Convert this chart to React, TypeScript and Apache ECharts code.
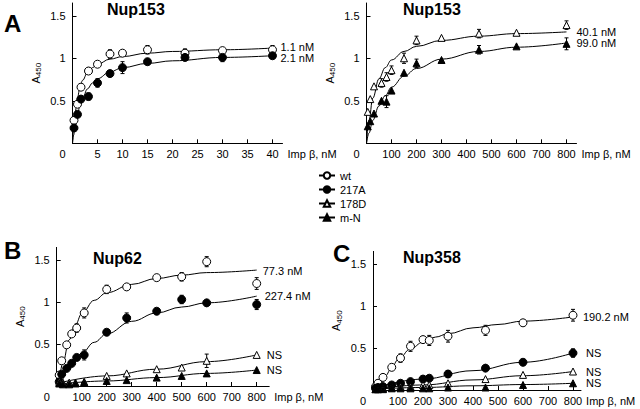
import React, { useEffect, useRef } from 'react';
import * as echarts from 'echarts';

// ---------- Panel A (left): Nup153, 0–40 nM ----------
const A1_X = [0.3, 1.0, 1.7, 3.2, 5, 7.5, 10, 15, 22.5, 30, 40];
const A1_WT = [0.27, 0.46, 0.66, 0.85, 0.93, 1.05, 1.06, 1.1, 1.06, 1.09, 1.1];
const A1_WT_ERR = [0, 0, 0, 0.04, 0, 0.05, 0, 0.05, 0.05, 0, 0.05];
const A1_217A = [0.18, 0.34, 0.52, 0.55, 0.71, 0.82, 0.89, 0.96, 1.01, 1.01, 1.03];
const A1_217A_ERR = [0, 0, 0.03, 0.04, 0.05, 0, 0.07, 0, 0.02, 0.05, 0];
const A1_FIT_X = [0, 0.25, 0.5, 1, 1.5, 2, 3, 4, 5, 7.5, 10, 15, 20, 30, 40];
const A1_WT_FIT = [0, 0.21, 0.35, 0.54, 0.66, 0.74, 0.83, 0.89, 0.93, 0.99, 1.02, 1.06, 1.08, 1.1, 1.12];
const A1_217A_FIT = [0, 0.1, 0.19, 0.34, 0.45, 0.53, 0.64, 0.71, 0.76, 0.84, 0.89, 0.94, 0.97, 1.01, 1.03];
const A1_TICKS = [0, 5, 10, 15, 20, 25, 30, 35, 40];

// ---------- Panel A (right): Nup153, 0–800 nM ----------
const A2_X = [5, 15, 30, 60, 80, 100, 150, 200, 300, 450, 600, 800];
const A2_178D = [0.37, 0.52, 0.67, 0.71, 0.78, 0.86, 1.0, 1.21, 1.24, 1.29, 1.3, 1.39];
const A2_178D_ERR = [0, 0, 0, 0.05, 0.05, 0.05, 0.06, 0.05, 0, 0.05, 0, 0.05];
const A2_MN = [0.2, 0.26, 0.35, 0.5, 0.49, 0.62, 0.83, 0.94, 0.98, 1.1, 1.14, 1.17];
const A2_MN_ERR = [0, 0, 0, 0, 0.07, 0, 0, 0.05, 0, 0.05, 0, 0.07];
const A2_FIT_X = [0, 10, 25, 50, 75, 100, 150, 200, 300, 450, 600, 800];
const A2_178D_FIT = [0, 0.27, 0.53, 0.76, 0.89, 0.98, 1.08, 1.14, 1.21, 1.26, 1.29, 1.31];
const A2_MN_FIT = [0, 0.12, 0.27, 0.44, 0.56, 0.66, 0.79, 0.88, 0.99, 1.08, 1.13, 1.18];

// ---------- Panel B: Nup62 ----------
const B_X = [10, 20, 40, 60, 80, 110, 200, 280, 400, 500, 600, 800];
const B_WT = [0.13, 0.3, 0.49, 0.62, 0.69, 0.87, 1.15, 1.18, 1.29, 1.3, 1.48, 1.22];
const B_WT_ERR = [0, 0, 0, 0, 0.05, 0.06, 0.05, 0.02, 0, 0.05, 0.06, 0.07];
const B_217A = [0.05, 0.14, 0.21, 0.27, 0.34, 0.37, 0.64, 0.81, 0.89, 1.03, 0.99, 0.97];
const B_217A_ERR = [0, 0, 0, 0, 0, 0.06, 0, 0.06, 0, 0.05, 0, 0.06];
const B_X2 = [10, 25, 50, 75, 110, 200, 280, 400, 500, 600, 800];
const B_178D = [0.05, 0.04, 0.04, 0.04, 0.05, 0.12, 0.15, 0.2, 0.22, 0.3, 0.37];
const B_178D_ERR = [0, 0, 0, 0, 0, 0, 0, 0, 0, 0.08, 0];
const B_MN = [0.03, 0.02, 0.02, 0.03, 0.04, 0.06, 0.07, 0.1, 0.12, 0.15, 0.19];
const B_WT_FIT_X = [10, 25, 50, 75, 100, 150, 200, 300, 400, 500, 600, 800];
const B_WT_FIT = [0.05, 0.28, 0.55, 0.73, 0.86, 1.02, 1.11, 1.21, 1.28, 1.32, 1.35, 1.38];
const B_217A_FIT_X = [20, 50, 100, 150, 200, 300, 400, 500, 600, 800];
const B_217A_FIT = [0.05, 0.2, 0.39, 0.52, 0.62, 0.77, 0.87, 0.94, 0.99, 1.07];
const B_LIN_X = [0, 200, 400, 600, 800];
const B_178D_FIT = [0.03, 0.12, 0.2, 0.29, 0.37];
const B_MN_FIT = [0.02, 0.06, 0.1, 0.15, 0.19];

// ---------- Panel C: Nup358 ----------
const C_X = [10, 20, 40, 75, 110, 150, 200, 225, 300, 450, 600, 800];
const C_WT = [0.04, 0.08, 0.15, 0.27, 0.38, 0.52, 0.6, 0.59, 0.64, 0.71, 0.8, 0.89];
const C_WT_ERR = [0, 0, 0, 0, 0.05, 0.06, 0, 0.06, 0.07, 0.06, 0, 0.07];
const C_217A = [0.02, 0.03, 0.04, 0.06, 0.08, 0.1, 0.13, 0.14, 0.19, 0.26, 0.33, 0.44];
const C_217A_ERR = [0, 0, 0, 0, 0, 0, 0, 0, 0.04, 0, 0, 0.05];
const C_178D = [0.01, 0.01, 0.02, 0.03, 0.04, 0.04, 0.06, 0.06, 0.08, 0.13, 0.18, 0.22];
const C_MN = [0.01, 0.01, 0.01, 0.02, 0.02, 0.02, 0.02, 0.02, 0.03, 0.03, 0.06, 0.08];
const C_WT_FIT_X = [0, 25, 50, 75, 100, 150, 200, 250, 300, 400, 500, 600, 800];
const C_WT_FIT = [0, 0.07, 0.17, 0.27, 0.36, 0.49, 0.57, 0.63, 0.67, 0.74, 0.78, 0.82, 0.87];
const C_LIN_X = [0, 200, 400, 600, 800];
const C_217A_FIT = [0.02, 0.13, 0.23, 0.33, 0.44];
const C_178D_FIT = [0.01, 0.06, 0.12, 0.17, 0.22];
const C_MN_FIT = [0.01, 0.03, 0.05, 0.065, 0.08];

const IMP_TICKS = [0, 100, 200, 300, 400, 500, 600, 700, 800];
const Y_TICKS = [0.5, 1, 1.5];
const LEGEND_NAMES = ['wt', '217A', '178D', 'm-N'];

const FONT = '"Liberation Sans", Arial, Helvetica, sans-serif';

const STYLE: Record<string, { symbol: string; size: number; fill: string }> = {
  wt: { symbol: 'circle', size: 8, fill: '#ffffff' },
  '217A': { symbol: 'circle', size: 8, fill: '#000000' },
  '178D': { symbol: 'triangle', size: 7, fill: '#ffffff' },
  'm-N': { symbol: 'triangle', size: 7, fill: '#000000' },
};

type DS = {
  kind: string;
  x: number[];
  y: number[];
  err?: number[];
  fitX: number[];
  fit: number[];
  label: string;
  dist: number;
  dy: number;
};

type Panel = {
  grid: { left: number; top: number; width: number; height: number };
  xMax: number;
  ticks: number[];
  sets: DS[];
};

const PANELS: Panel[] = [
  {
    grid: { left: 72.5, top: 3, width: 210, height: 140.3 },
    xMax: 42,
    ticks: A1_TICKS,
    sets: [
      { kind: 'wt', x: A1_X, y: A1_WT, err: A1_WT_ERR, fitX: A1_FIT_X, fit: A1_WT_FIT, label: '1.1 nM', dist: 8, dy: -1 },
      { kind: '217A', x: A1_X, y: A1_217A, err: A1_217A_ERR, fitX: A1_FIT_X, fit: A1_217A_FIT, label: '2.1 nM', dist: 8, dy: 2.5 },
    ],
  },
  {
    grid: { left: 366.5, top: 3, width: 210, height: 140.3 },
    xMax: 840,
    ticks: IMP_TICKS,
    sets: [
      { kind: '178D', x: A2_X, y: A2_178D, err: A2_178D_ERR, fitX: A2_FIT_X, fit: A2_178D_FIT, label: '40.1 nM', dist: 10, dy: 0 },
      { kind: 'm-N', x: A2_X, y: A2_MN, err: A2_MN_ERR, fitX: A2_FIT_X, fit: A2_MN_FIT, label: '99.0 nM', dist: 10, dy: 0 },
    ],
  },
  {
    grid: { left: 56.7, top: 247.4, width: 212.5, height: 138.6 },
    xMax: 850,
    ticks: IMP_TICKS,
    sets: [
      { kind: 'wt', x: B_X, y: B_WT, err: B_WT_ERR, fitX: B_WT_FIT_X, fit: B_WT_FIT, label: '77.3 nM', dist: 6, dy: 1 },
      { kind: '217A', x: B_X, y: B_217A, err: B_217A_ERR, fitX: B_217A_FIT_X, fit: B_217A_FIT, label: '227.4 nM', dist: 8, dy: 0 },
      { kind: '178D', x: B_X2, y: B_178D, err: B_178D_ERR, fitX: B_LIN_X, fit: B_178D_FIT, label: 'NS', dist: 10, dy: 0 },
      { kind: 'm-N', x: B_X2, y: B_MN, fitX: B_LIN_X, fit: B_MN_FIT, label: 'NS', dist: 10, dy: 0 },
    ],
  },
  {
    grid: { left: 373, top: 251.4, width: 208, height: 138.6 },
    xMax: 832,
    ticks: IMP_TICKS,
    sets: [
      { kind: 'wt', x: C_X, y: C_WT, err: C_WT_ERR, fitX: C_WT_FIT_X, fit: C_WT_FIT, label: '190.2 nM', dist: 10, dy: 0 },
      { kind: '217A', x: C_X, y: C_217A, err: C_217A_ERR, fitX: C_LIN_X, fit: C_217A_FIT, label: 'NS', dist: 13, dy: 0 },
      { kind: '178D', x: C_X, y: C_178D, fitX: C_LIN_X, fit: C_178D_FIT, label: 'NS', dist: 13, dy: 0 },
      { kind: 'm-N', x: C_X, y: C_MN, fitX: C_LIN_X, fit: C_MN_FIT, label: 'NS', dist: 13, dy: 0 },
    ],
  },
];

const TITLES = [
  { text: 'Nup153', left: 107, top: 1 },
  { text: 'Nup153', left: 403, top: 1 },
  { text: 'Nup62', left: 93, top: 250 },
  { text: 'Nup358', left: 403, top: 249 },
];
const LETTERS = [
  { text: 'A', left: 4, top: 11 },
  { text: 'B', left: 4, top: 238 },
  { text: 'C', left: 333, top: 241 },
];

function buildOption() {
  const grids: any[] = [];
  const xAxes: any[] = [];
  const yAxes: any[] = [];
  const series: any[] = [];

  PANELS.forEach((p, i) => {
    grids.push({ ...p.grid, containLabel: false });
    xAxes.push({
      type: 'value',
      gridIndex: i,
      min: 0,
      max: p.xMax,
      name: 'Imp β, nM',
      nameLocation: 'end',
      nameGap: 5,
      nameTextStyle: { fontFamily: FONT, fontSize: 11, color: '#000', verticalAlign: 'top', align: 'left', padding: [5, 0, 0, 0] },
      axisLine: { onZero: false, lineStyle: { color: '#000', width: 1 } },
      axisTick: { show: true, inside: true, length: 4, lineStyle: { color: '#000' }, customValues: p.ticks.filter((t) => t > 0) },
      axisLabel: {
        show: true,
        margin: 5,
        fontFamily: FONT,
        fontSize: 11,
        color: '#000',
        customValues: p.ticks,
        formatter: (v: number) => (v === 0 ? '{z|0}' : String(v)),
        rich: { z: { fontFamily: FONT, fontSize: 11, color: '#000', padding: [0, 20, 0, 0] } },
      },
      splitLine: { show: false },
    });
    yAxes.push({
      type: 'value',
      gridIndex: i,
      min: 0,
      max: 1.65,
      name: '{a|A}{s|450}',
      nameLocation: 'middle',
      nameRotate: 90,
      nameGap: 30,
      nameTextStyle: {
        color: '#000',
        rich: {
          a: { fontFamily: FONT, fontSize: 11, color: '#000', lineHeight: 14, verticalAlign: 'middle' },
          s: { fontFamily: FONT, fontSize: 8, color: '#000', lineHeight: 14, verticalAlign: 'bottom' },
        },
      },
      axisLine: { onZero: false, lineStyle: { color: '#000', width: 1 } },
      axisTick: { show: true, inside: true, length: 4, lineStyle: { color: '#000' }, customValues: Y_TICKS },
      axisLabel: {
        margin: 7,
        fontFamily: FONT,
        fontSize: 11,
        color: '#000',
        customValues: Y_TICKS,
        formatter: (v: number) => String(v),
      },
      splitLine: { show: false },
    });

    p.sets.forEach((d, j) => {
      const st = STYLE[d.kind];
      series.push({
        type: 'line',
        name: `fit-${i}-${j}`,
        xAxisIndex: i,
        yAxisIndex: i,
        data: d.fitX.map((x, k) => [x, d.fit[k]]),
        showSymbol: false,
        symbol: 'none',
        smooth: 0.4,
        smoothMonotone: 'x',
        lineStyle: { color: '#000', width: 1 },
        silent: true,
        z: 2,
        endLabel: {
          show: true,
          formatter: d.label,
          distance: d.dist,
          offset: [0, d.dy],
          fontFamily: FONT,
          fontSize: 11,
          color: '#000',
        },
      });
      if (d.err) {
        const errData = d.x
          .map((x, k) => [x, d.y[k] - d.err![k], d.y[k] + d.err![k], d.err![k]])
          .filter((r) => r[3] > 0);
        series.push({
          type: 'custom',
          name: `err-${i}-${j}`,
          xAxisIndex: i,
          yAxisIndex: i,
          silent: true,
          z: 3,
          data: errData,
          encode: { x: 0, y: [1, 2] },
          renderItem: (params: any, api: any) => {
            const x = api.value(0);
            const lo = api.coord([x, api.value(1)]);
            const hi = api.coord([x, api.value(2)]);
            const cap = 2;
            const style = { stroke: '#000', lineWidth: 1 };
            return {
              type: 'group',
              children: [
                { type: 'line', shape: { x1: lo[0], y1: lo[1], x2: hi[0], y2: hi[1] }, style },
                { type: 'line', shape: { x1: lo[0] - cap, y1: lo[1], x2: lo[0] + cap, y2: lo[1] }, style },
                { type: 'line', shape: { x1: hi[0] - cap, y1: hi[1], x2: hi[0] + cap, y2: hi[1] }, style },
              ],
            };
          },
        });
      }
      series.push({
        type: 'scatter',
        name: `pts-${i}-${j}`,
        xAxisIndex: i,
        yAxisIndex: i,
        data: d.x.map((x, k) => [x, d.y[k]]),
        symbol: st.symbol,
        symbolSize: st.size,
        itemStyle: { color: st.fill, borderColor: '#000', borderWidth: 1, opacity: 1 },
        silent: true,
        z: 4,
      });
    });
  });

  // legend-only series
  LEGEND_NAMES.forEach((n) => {
    const st = STYLE[n];
    series.push({
      type: 'line',
      name: n,
      xAxisIndex: 0,
      yAxisIndex: 0,
      data: [],
      symbol: st.symbol,
      symbolSize: st.size,
      itemStyle: { color: st.fill, borderColor: '#000', borderWidth: 1 },
      lineStyle: { color: '#000', width: 1 },
    });
  });

  return {
    animation: false,
    backgroundColor: '#ffffff',
    textStyle: { fontFamily: FONT },
    title: [
      ...TITLES.map((t) => ({
        text: t.text,
        left: t.left,
        top: t.top,
        padding: 0,
        textStyle: { fontFamily: FONT, fontSize: 16, fontWeight: 'bold', color: '#000' },
      })),
      ...LETTERS.map((t) => ({
        text: t.text,
        left: t.left,
        top: t.top,
        padding: 0,
        textStyle: { fontFamily: FONT, fontSize: 24, fontWeight: 'bold', color: '#000' },
      })),
    ],
    legend: {
      data: LEGEND_NAMES,
      orient: 'vertical',
      left: 318,
      top: 170,
      padding: 0,
      itemWidth: 16,
      itemHeight: 8,
      itemGap: 3,
      selectedMode: false,
      textStyle: { fontFamily: FONT, fontSize: 11, color: '#000' },
    },
    grid: grids,
    xAxis: xAxes,
    yAxis: yAxes,
    series,
  };
}

export default function App() {
  const ref = useRef<HTMLDivElement>(null);
  useEffect(() => {
    if (!ref.current) return;
    const chart = echarts.init(ref.current, undefined, { renderer: 'svg' });
    chart.setOption(buildOption() as any);
    return () => chart.dispose();
  }, []);
  return (
    <div
      ref={ref}
      style={{ position: 'fixed', left: 0, top: 0, width: 640, height: 409, background: '#fff' }}
    />
  );
}
